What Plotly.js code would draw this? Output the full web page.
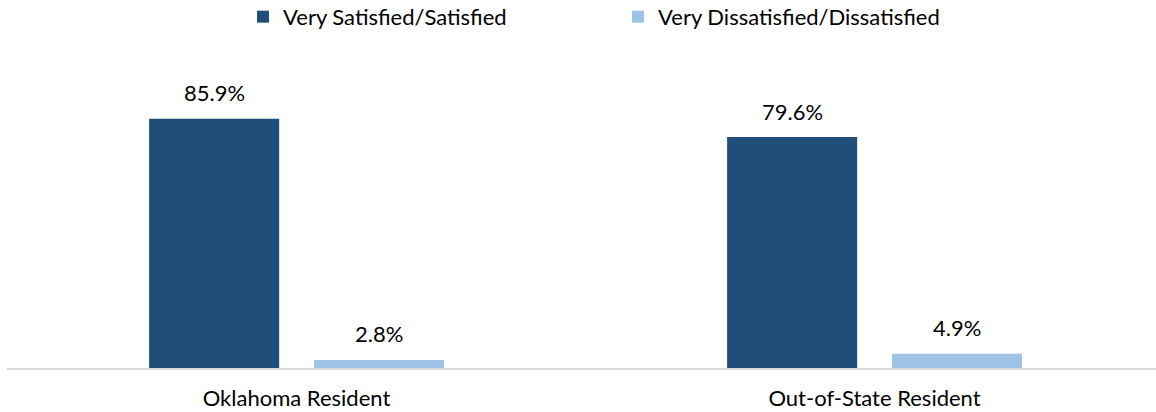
<!DOCTYPE html>
<html>
<head>
<meta charset="utf-8">
<script src="https://cdn.plot.ly/plotly-3.0.1.min.js"></script>
<style>html,body{margin:0;padding:0;background:#fff;}#chart{width:1156px;height:412px;}</style>
</head>
<body>
<div id="chart"></div>
<script>
const categories = ["Oklahoma Resident", "Out-of-State Resident"];
const seriesNames = ["Very Satisfied/Satisfied", "Very Dissatisfied/Dissatisfied"];
const satisfied = [85.9, 79.6];
const dissatisfied = [2.8, 4.9];
const labelsSatisfied = ["85.9%", "79.6%"];
const labelsDissatisfied = ["2.8%", "4.9%"];

const FONT = "Lato, 'Liberation Sans', sans-serif";
const darkColor = "#1f4e79";
const lightColor = "#9dc3e6";
const barWidth = 0.225;
const offDark = -0.255;
const offLight = 0.0303;

const traces = [
  {type: "bar", name: seriesNames[0], x: categories, y: satisfied,
   marker: {color: darkColor}, width: barWidth, offset: offDark, hoverinfo: "skip"},
  {type: "bar", name: seriesNames[1], x: categories, y: dissatisfied,
   marker: {color: lightColor}, width: barWidth, offset: offLight, hoverinfo: "skip"}
];

const annotations = [];
categories.forEach((c, i) => {
  annotations.push({x: i + offDark + barWidth / 2, y: satisfied[i], xref: "x", yref: "y",
    text: labelsSatisfied[i], showarrow: false, yanchor: "middle", yshift: 26,
    font: {family: FONT, size: 22, color: "#000"}});
  annotations.push({x: i + offLight + barWidth / 2, y: dissatisfied[i], xref: "x", yref: "y",
    text: labelsDissatisfied[i], showarrow: false, yanchor: "middle", yshift: 26,
    font: {family: FONT, size: 22, color: "#000"}});
});

const layout = {
  width: 1156, height: 412,
  margin: {l: 7, r: 0, t: 60, b: 44, autoexpand: false},
  paper_bgcolor: "#fff", plot_bgcolor: "#fff",
  barmode: "group",
  showlegend: true,
  legend: {orientation: "h", x: 0.5318, xanchor: "center", y: 1.14, yanchor: "middle",
    font: {family: FONT, size: 22, color: "#000"}, entrywidth: 330, traceorder: "normal"},
  xaxis: {type: "category", range: [-0.50087, 1.48702], showline: true, linecolor: "#d9d9d9",
    linewidth: 2, ticks: "", showgrid: false, zeroline: false, ticklabelstandoff: 10,
    tickfont: {family: FONT, size: 22, color: "#000"}},
  yaxis: {range: [0, 106.17], visible: false, showgrid: false, zeroline: false},
  annotations: annotations
};

Plotly.newPlot("chart", traces, layout, {displayModeBar: false, staticPlot: true});
</script>
</body>
</html>
